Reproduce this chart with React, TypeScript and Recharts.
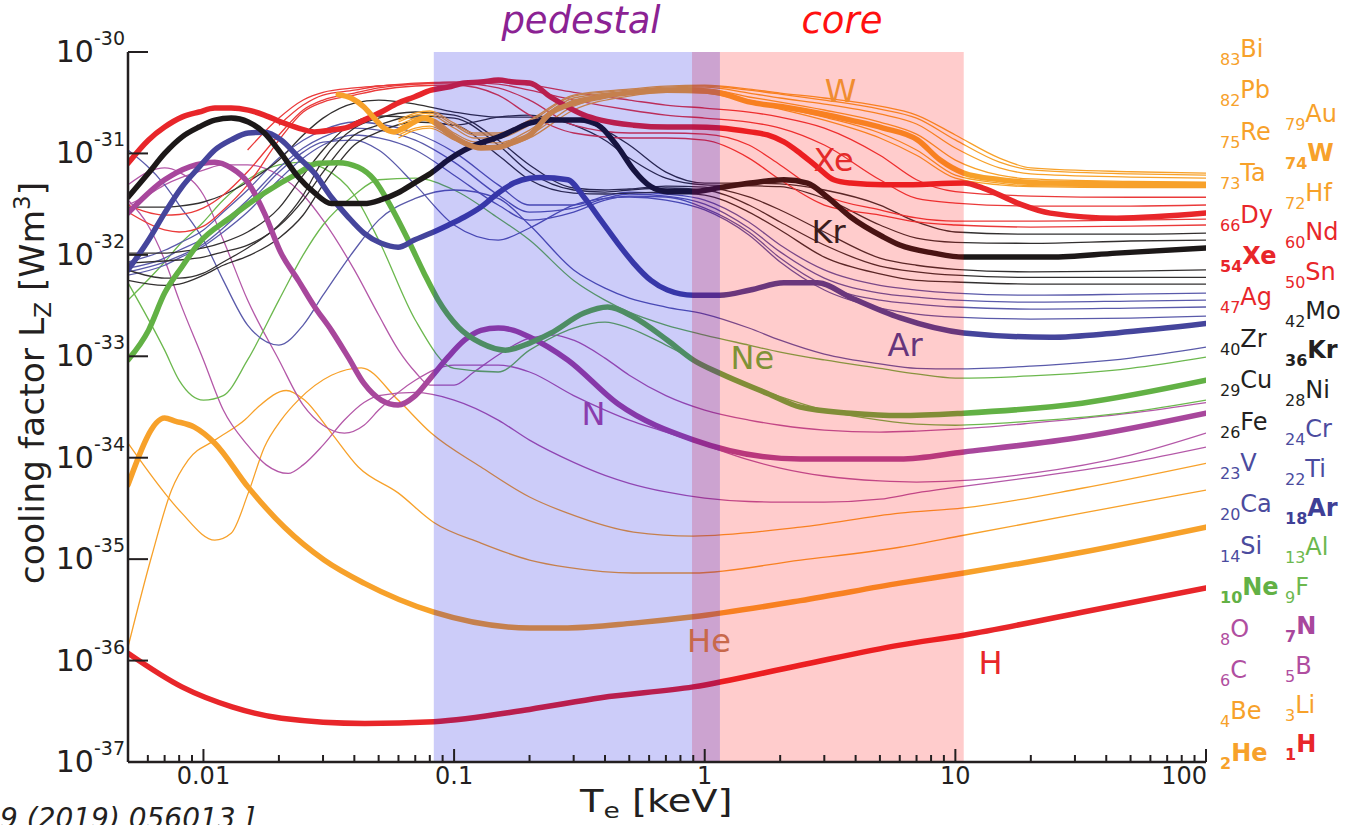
import React from 'react';
import { ComposedChart, Line, XAxis, YAxis, ReferenceArea, ReferenceDot } from 'recharts';

// ---- temperature grids [keV] ----
const tStd = [0.005, 0.007, 0.008, 0.01, 0.012, 0.015, 0.02, 0.025, 0.03, 0.04, 0.05, 0.07, 0.1, 0.15, 0.2, 0.3, 0.4, 0.5, 0.7, 1, 1.5, 2, 3, 5, 7, 10, 20, 50, 100];
const tRed = [0.005, 0.007, 0.008, 0.01, 0.012, 0.015, 0.02, 0.025, 0.03, 0.04, 0.05, 0.07, 0.1, 0.15, 0.2, 0.3, 0.5, 0.7, 1, 1.5, 2, 3, 5, 7, 10, 20, 50, 100];
const tHeavy = [0.06, 0.07, 0.08, 0.1, 0.12, 0.15, 0.2, 0.3, 0.5, 0.7, 1, 1.5, 2, 3, 5, 7, 10, 15, 20, 50, 100];
const tB = [0.005, 0.006, 0.007, 0.008, 0.01, 0.012, 0.015, 0.0178, 0.0218, 0.025, 0.03, 0.0365, 0.0437, 0.05, 0.07, 0.1, 0.15, 0.2, 0.3, 0.4, 0.5, 0.7, 1, 1.5, 2, 3, 5, 7, 10, 20, 50, 100];
const tC = [0.005, 0.006, 0.007, 0.008, 0.01, 0.012, 0.015, 0.02, 0.025, 0.03, 0.0365, 0.0437, 0.05, 0.07, 0.1, 0.15, 0.2, 0.3, 0.4, 0.5, 0.7, 1, 1.5, 2, 3, 5, 7, 10, 20, 50, 100];
const tO = [0.005, 0.006, 0.007, 0.01, 0.012, 0.015, 0.02, 0.025, 0.03, 0.04, 0.05, 0.06, 0.07, 0.08, 0.1, 0.12, 0.15, 0.2, 0.25, 0.3, 0.4, 0.5, 0.7, 1, 1.5, 2, 3, 5, 7, 10, 20, 50, 100];
const tBe = [0.005, 0.007, 0.0082, 0.0111, 0.0129, 0.0151, 0.0175, 0.0204, 0.0239, 0.0324, 0.0426, 0.0598, 0.081, 0.128, 0.2, 0.284, 0.52, 0.9, 2.41, 6, 10.8, 32, 100];
const tLi = [0.005, 0.0062, 0.00746, 0.0087, 0.0111, 0.0146, 0.0166, 0.0214, 0.0253, 0.0324, 0.0415, 0.0598, 0.083, 0.128, 0.2, 0.284, 0.52, 0.9, 2.41, 6, 10.8, 32, 100];

// ---- thick (highlighted) species ----
const tH = [0.005, 0.0082, 0.013, 0.0205, 0.044, 0.083, 0.2, 0.385, 0.9, 2.4, 6, 10.8, 32, 100];
const lzH = [1.18e-36, 5.5e-37, 3.5e-37, 2.7e-37, 2.4e-37, 2.5e-37, 3.3e-37, 4.3e-37, 5.5e-37, 9.0e-37, 1.42e-36, 1.78e-36, 3.0e-36, 5.2e-36];

const tHe = [0.005, 0.007, 0.0077, 0.0092, 0.0111, 0.0151, 0.021, 0.0303, 0.0437, 0.083, 0.2, 0.284, 0.52, 0.9, 2.41, 6, 10.8, 32, 100];
const lzHe = [5.4e-35, 2.46e-34, 2.3e-34, 2.0e-34, 1.39e-34, 5.1e-35, 2.07e-35, 9.8e-36, 5.8e-36, 3.0e-36, 2.1e-36, 2.1e-36, 2.34e-36, 2.7e-36, 3.9e-36, 5.8e-36, 7.3e-36, 1.17e-35, 2.07e-35];

const tN = [0.005, 0.007, 0.0111, 0.0129, 0.0151, 0.0175, 0.0204, 0.0239, 0.0277, 0.0324, 0.0378, 0.0437, 0.0512, 0.0598, 0.0693, 0.081, 0.0946, 0.11, 0.128, 0.15, 0.173, 0.2, 0.284, 0.45, 0.9, 2.41, 6, 10.8, 32, 100];
const lzN = [2.58e-32, 5.5e-32, 8.2e-32, 7.2e-32, 5.1e-32, 2.58e-32, 1.04e-32, 5.6e-33, 3.1e-33, 1.8e-33, 9.8e-34, 5.4e-34, 3.7e-34, 3.3e-34, 4.0e-34, 6.2e-34, 9.8e-34, 1.44e-33, 1.8e-33, 1.9e-33, 1.8e-33, 1.55e-33, 9.2e-34, 3.4e-34, 1.5e-34, 9.7e-35, 9.7e-35, 1.14e-34, 1.6e-34, 2.75e-34];

const tNe = [0.005, 0.00604, 0.007, 0.0082, 0.0096, 0.0129, 0.0175, 0.0239, 0.0287, 0.0345, 0.0415, 0.048, 0.0561, 0.0656, 0.0759, 0.0863, 0.104, 0.128, 0.16, 0.2, 0.243, 0.33, 0.41, 0.52, 0.71, 0.9, 1.15, 1.78, 2.41, 3.82, 6, 10.8, 32, 100];
const lzNe = [9.2e-34, 1.81e-33, 4.2e-33, 7.6e-33, 1.31e-32, 2.36e-32, 4.07e-32, 6.4e-32, 8.0e-32, 8.1e-32, 7.3e-32, 5.5e-32, 2.96e-32, 1.4e-32, 6.6e-33, 3.6e-33, 1.94e-33, 1.35e-33, 1.15e-33, 1.35e-33, 1.69e-33, 2.67e-33, 3.06e-33, 2.44e-33, 1.44e-33, 9.2e-34, 6.8e-34, 4.3e-34, 3.15e-34, 2.75e-34, 2.6e-34, 2.75e-34, 3.45e-34, 5.8e-34];

const tAr = [0.005, 0.00604, 0.007, 0.0082, 0.0096, 0.0111, 0.0129, 0.0151, 0.0175, 0.0204, 0.0239, 0.0277, 0.0324, 0.0378, 0.0437, 0.0512, 0.0598, 0.0693, 0.081, 0.0946, 0.11, 0.128, 0.15, 0.173, 0.2, 0.222, 0.284, 0.33, 0.385, 0.45, 0.52, 0.61, 0.71, 0.9, 1.15, 1.52, 2.07, 2.82, 3.82, 6, 10.8, 23.9, 44, 100];
const lzAr = [7.1e-33, 1.4e-32, 2.58e-32, 4.66e-32, 7.3e-32, 1.08e-31, 1.36e-31, 1.59e-31, 1.62e-31, 1.36e-31, 9.2e-32, 6.4e-32, 3.7e-32, 2.36e-32, 1.64e-32, 1.3e-32, 1.19e-32, 1.4e-32, 1.64e-32, 1.96e-32, 2.36e-32, 2.96e-32, 4.07e-32, 5.1e-32, 5.7e-32, 5.8e-32, 5.5e-32, 3.7e-32, 2.2e-32, 1.3e-32, 8.3e-33, 5.6e-33, 4.5e-33, 4.0e-33, 4.0e-33, 4.5e-33, 5.3e-33, 5.3e-33, 3.8e-33, 2.4e-33, 1.7e-33, 1.54e-33, 1.7e-33, 2.1e-33];

const tKr = [0.005, 0.00604, 0.007, 0.0082, 0.0096, 0.0111, 0.0129, 0.0151, 0.0175, 0.0204, 0.0239, 0.0277, 0.0324, 0.0378, 0.0437, 0.0512, 0.0598, 0.0693, 0.081, 0.0946, 0.11, 0.128, 0.15, 0.173, 0.2, 0.243, 0.33, 0.385, 0.45, 0.52, 0.61, 0.71, 0.9, 1.15, 1.52, 2.07, 2.57, 3.09, 3.82, 5.16, 6, 8.2, 10.8, 23.9, 44, 100];
const lzKr = [3.7e-32, 6.4e-32, 1.0e-31, 1.45e-31, 1.82e-31, 2.13e-31, 2.23e-31, 2.04e-31, 1.59e-31, 1.0e-31, 5.85e-32, 4.1e-32, 3.2e-32, 3.2e-32, 3.2e-32, 3.5e-32, 4.1e-32, 5.1e-32, 6.4e-32, 8.6e-32, 1.08e-31, 1.27e-31, 1.45e-31, 1.7e-31, 1.99e-31, 2.13e-31, 2.13e-31, 1.82e-31, 1.16e-31, 6.9e-32, 4.7e-32, 4.2e-32, 4.2e-32, 4.6e-32, 5.1e-32, 5.5e-32, 5.1e-32, 3.7e-32, 2.36e-32, 1.5e-32, 1.25e-32, 1.04e-32, 9.5e-33, 9.5e-33, 1.04e-32, 1.17e-32];

const tXe = [0.005, 0.00604, 0.007, 0.0082, 0.0096, 0.0111, 0.0129, 0.0151, 0.0175, 0.0204, 0.0239, 0.0277, 0.0324, 0.0378, 0.0437, 0.0512, 0.0598, 0.0693, 0.081, 0.0946, 0.11, 0.128, 0.15, 0.173, 0.2, 0.243, 0.284, 0.33, 0.385, 0.52, 0.71, 0.9, 1.15, 1.52, 1.78, 2.07, 2.41, 2.82, 3.27, 3.82, 5.16, 6, 10.8, 12.9, 17.7, 23.9, 44, 100];
const lzXe = [8.0e-32, 1.36e-31, 1.82e-31, 2.28e-31, 2.56e-31, 2.8e-31, 2.8e-31, 2.67e-31, 2.39e-31, 2.04e-31, 1.78e-31, 1.63e-31, 1.7e-31, 1.82e-31, 2.13e-31, 2.56e-31, 3.14e-31, 3.6e-31, 4.2e-31, 4.5e-31, 4.94e-31, 5.05e-31, 5.3e-31, 5.05e-31, 4.94e-31, 3.6e-31, 2.87e-31, 2.39e-31, 2.13e-31, 1.9e-31, 1.82e-31, 1.82e-31, 1.78e-31, 1.63e-31, 1.52e-31, 1.3e-31, 1.0e-31, 7.3e-32, 5.5e-32, 5.1e-32, 4.9e-32, 4.9e-32, 5.1e-32, 4.56e-32, 3.24e-32, 2.58e-32, 2.3e-32, 2.58e-32];

const tW = [0.0345, 0.039, 0.0437, 0.048, 0.0526, 0.0576, 0.0632, 0.0693, 0.076, 0.083, 0.0946, 0.11, 0.128, 0.15, 0.173, 0.2, 0.243, 0.284, 0.385, 0.52, 0.71, 0.9, 1.15, 1.52, 2.07, 2.82, 3.82, 5.16, 7.06, 8.7, 10.8, 15.1, 23.9, 100];
const lzW = [3.8e-31, 3.5e-31, 2.87e-31, 2.23e-31, 1.78e-31, 1.63e-31, 1.78e-31, 2.04e-31, 2.23e-31, 2.04e-31, 1.59e-31, 1.27e-31, 1.13e-31, 1.15e-31, 1.3e-31, 1.52e-31, 2.5e-31, 3.0e-31, 3.6e-31, 4.0e-31, 4.2e-31, 4.2e-31, 3.94e-31, 3.2e-31, 2.87e-31, 2.5e-31, 2.13e-31, 1.78e-31, 1.36e-31, 8.6e-32, 6.4e-32, 5.5e-32, 5.1e-32, 4.9e-32];

// ---- thin species ----
const lzLi = [1.36e-36, 1.05e-35, 4.8e-35, 9.5e-35, 1.49e-34, 2.35e-34, 3.2e-34, 4.6e-34, 3.7e-34, 1.75e-34, 8.1e-35, 4.5e-35, 2.3e-35, 1.44e-35, 9.8e-36, 8.3e-36, 7.3e-36, 7.3e-36, 9.8e-36, 1.31e-35, 1.72e-35, 2.84e-35, 4.8e-35];
const lzBe = [1.39e-34, 4.5e-35, 2.84e-35, 1.54e-35, 1.8e-35, 4.5e-35, 1.27e-34, 2.35e-34, 3.7e-34, 6.5e-34, 7.7e-34, 3.7e-34, 1.75e-34, 8.1e-35, 4.1e-35, 2.84e-35, 1.85e-35, 1.69e-35, 2.07e-35, 2.84e-35, 3.2e-35, 5.0e-35, 8.8e-35];
const lzB = [3.47e-32, 1.97e-32, 8.9e-33, 3.58e-33, 9.2e-34, 2.95e-34, 1.33e-34, 8.5e-35, 7.0e-35, 8.5e-35, 1.33e-34, 2.35e-34, 3.5e-34, 4.1e-34, 4.4e-34, 3.7e-34, 2.35e-34, 1.49e-34, 9.0e-35, 6.7e-35, 5.6e-35, 4.6e-35, 4.0e-35, 3.7e-35, 3.65e-35, 3.65e-35, 3.9e-35, 4.5e-35, 5.1e-35, 6.4e-35, 9.0e-35, 1.27e-34];
const lzC = [4.9e-32, 6.55e-32, 7.2e-32, 6.55e-32, 3.89e-32, 1.4e-32, 3.58e-33, 9.2e-34, 3.3e-34, 2.09e-34, 1.75e-34, 2.09e-34, 2.95e-34, 5.8e-34, 8.2e-34, 8.2e-34, 7.0e-34, 4.1e-34, 2.95e-34, 2.35e-34, 1.79e-34, 1.33e-34, 9.5e-35, 7.9e-35, 6.6e-35, 5.9e-35, 5.75e-35, 5.9e-35, 7.0e-35, 1.06e-34, 1.75e-34];
const lzO = [3.1e-32, 3.89e-32, 4.9e-32, 6.86e-32, 7.7e-32, 7.7e-32, 6.1e-32, 3.89e-32, 2.2e-32, 7.1e-33, 2.55e-33, 1.15e-33, 7.0e-34, 5.2e-34, 5.2e-34, 7.0e-34, 1.03e-33, 1.51e-33, 1.62e-33, 1.44e-33, 9.6e-34, 6.5e-34, 4.1e-34, 2.95e-34, 2.35e-34, 2.09e-34, 1.87e-34, 1.79e-34, 1.83e-34, 1.91e-34, 2.19e-34, 2.75e-34, 3.5e-34];
const lzF = [3.58e-33, 8.5e-33, 1.25e-32, 2.11e-32, 3.47e-32, 5.5e-32, 7.7e-32, 8.2e-32, 7.2e-32, 3.89e-32, 1.4e-32, 2.28e-33, 7.6e-34, 7.0e-34, 1.15e-33, 1.9e-33, 2.17e-33, 1.9e-33, 1.29e-33, 8.2e-34, 5.2e-34, 4.0e-34, 2.95e-34, 2.35e-34, 2.14e-34, 2.09e-34, 2.29e-34, 2.82e-34, 3.7e-34];
const lzAl = [5.3e-33, 1.15e-33, 5.8e-34, 3.7e-34, 4.1e-34, 9.2e-34, 3.58e-33, 1.0e-32, 1.97e-32, 3.89e-32, 5.5e-32, 5.7e-32, 4.36e-32, 2.31e-32, 1.4e-32, 5.6e-33, 3.58e-33, 2.72e-33, 2.03e-33, 1.62e-33, 1.29e-33, 1.1e-33, 9.2e-34, 7.6e-34, 6.7e-34, 6.1e-34, 6.4e-34, 7.6e-34, 9.8e-34];
const lzSi = [1.08e-31, 4.9e-32, 3.1e-32, 1.4e-32, 5.6e-33, 2.03e-33, 1.29e-33, 2.03e-33, 4.0e-33, 1.11e-32, 2.2e-32, 3.6e-32, 4.36e-32, 3.6e-32, 1.97e-32, 7.1e-33, 4.7e-33, 3.75e-33, 3.06e-33, 2.61e-33, 1.9e-33, 1.44e-33, 1.05e-33, 8.4e-34, 7.6e-34, 7.5e-34, 8.0e-34, 9.6e-34, 1.23e-33];
const lzCa = [6.8e-33, 8.5e-33, 9.7e-33, 1.28e-32, 1.84e-32, 3.1e-32, 6.55e-32, 1.03e-31, 1.29e-31, 1.35e-31, 1.08e-31, 4.9e-32, 1.97e-32, 1.4e-32, 1.84e-32, 3.1e-32, 3.6e-32, 3.72e-32, 3.47e-32, 2.77e-32, 1.57e-32, 8.5e-33, 4.5e-33, 2.99e-33, 2.61e-33, 2.43e-33, 2.33e-33, 2.38e-33, 2.49e-33];
const lzTi = [6.3e-33, 7.9e-33, 9.3e-33, 1.22e-32, 1.68e-32, 2.64e-32, 5.5e-32, 9.0e-32, 1.21e-31, 1.52e-31, 1.42e-31, 1.08e-31, 6.1e-32, 3.1e-32, 2.2e-32, 2.64e-32, 3.47e-32, 3.8e-32, 3.72e-32, 2.89e-32, 1.68e-32, 9.3e-33, 5.0e-33, 3.58e-33, 3.27e-33, 3.06e-33, 2.92e-33, 2.99e-33, 3.06e-33];
const lzV = [7.4e-33, 9.3e-33, 1.11e-32, 1.46e-32, 2.11e-32, 3.47e-32, 7.2e-32, 1.13e-31, 1.45e-31, 1.78e-31, 1.7e-31, 1.35e-31, 8.2e-32, 3.89e-32, 2.64e-32, 2.89e-32, 3.6e-32, 3.98e-32, 3.8e-32, 3.17e-32, 1.84e-32, 1.07e-32, 5.9e-33, 4.2e-33, 3.83e-33, 3.58e-33, 3.42e-33, 3.5e-33, 3.58e-33];
const lzCr = [8.5e-33, 1.11e-32, 1.3e-32, 1.76e-32, 2.64e-32, 4.36e-32, 9.0e-32, 1.35e-31, 1.7e-31, 2.04e-31, 1.95e-31, 1.59e-31, 1.03e-31, 4.9e-32, 3.1e-32, 3.1e-32, 3.8e-32, 4.16e-32, 3.98e-32, 3.47e-32, 2.11e-32, 1.25e-32, 7.1e-33, 5.0e-33, 4.5e-33, 4.2e-33, 4.0e-33, 4.1e-33, 4.2e-33];
const lzFe = [5.6e-33, 5.0e-33, 5.15e-33, 6.3e-33, 7.9e-33, 9.7e-33, 1.46e-32, 2.47e-32, 4.9e-32, 1.21e-31, 1.63e-31, 2.04e-31, 1.9e-31, 9.6e-32, 5.5e-32, 4.07e-32, 3.98e-32, 4.07e-32, 4.16e-32, 3.89e-32, 2.64e-32, 1.76e-32, 9.5e-33, 6.5e-33, 5.6e-33, 5.4e-33, 5.15e-33, 5.15e-33, 5.15e-33];
const lzNi = [8.3e-33, 8.7e-33, 8.9e-33, 9.5e-33, 1.07e-32, 1.25e-32, 1.92e-32, 3.47e-32, 6.55e-32, 1.52e-31, 1.9e-31, 2.34e-31, 2.23e-31, 1.21e-31, 6.55e-32, 4.36e-32, 4.16e-32, 4.36e-32, 4.56e-32, 4.36e-32, 3.1e-32, 2.11e-32, 1.25e-32, 7.75e-33, 6.8e-33, 6.3e-33, 6.0e-33, 6.0e-33, 6.0e-33];
const lzCu = [7.1e-33, 5.9e-33, 5.9e-33, 6.6e-33, 8.5e-33, 1.17e-32, 1.97e-32, 3.89e-32, 8.6e-32, 1.78e-31, 2.23e-31, 2.56e-31, 2.39e-31, 1.35e-31, 7.7e-32, 4.56e-32, 4.36e-32, 4.46e-32, 4.77e-32, 4.66e-32, 3.72e-32, 2.77e-32, 1.68e-32, 9.3e-33, 7.9e-33, 7.2e-33, 6.8e-33, 6.9e-33, 7.1e-33];
const lzZr = [1.04e-32, 1.04e-32, 1.07e-32, 1.17e-32, 1.33e-32, 1.68e-32, 2.89e-32, 6.1e-32, 1.08e-31, 2.04e-31, 2.34e-31, 2.23e-31, 1.9e-31, 2.28e-31, 2.39e-31, 1.9e-31, 1.35e-31, 9.0e-32, 5.7e-32, 4.9e-32, 4.8e-32, 4.7e-32, 3.6e-32, 1.97e-32, 1.46e-32, 1.33e-32, 1.3e-32, 1.37e-32, 1.4e-32];
const lzMo = [2.96e-32, 2.96e-32, 3.03e-32, 3.32e-32, 3.89e-32, 5.22e-32, 8.6e-32, 1.52e-31, 2.23e-31, 3.14e-31, 3.36e-31, 3.07e-31, 2.56e-31, 2.28e-31, 2.28e-31, 2.13e-31, 1.7e-31, 1.21e-31, 6.55e-32, 5.1e-32, 5.1e-32, 5.0e-32, 4.36e-32, 3.1e-32, 2.11e-32, 1.68e-32, 1.6e-32, 1.6e-32, 1.64e-32];
const lzAg = [2.64e-32, 1.76e-32, 1.68e-32, 1.92e-32, 2.77e-32, 4.9e-32, 1.35e-31, 2.56e-31, 3.21e-31, 3.76e-31, 4.22e-31, 4.62e-31, 4.73e-31, 3.76e-31, 2.39e-31, 1.59e-31, 1.42e-31, 1.42e-31, 1.35e-31, 9.0e-32, 5.5e-32, 3.1e-32, 2.47e-32, 2.11e-32, 1.97e-32, 1.88e-32, 1.92e-32, 1.97e-32];
const lzSn = [3.1e-32, 2.47e-32, 2.5e-32, 2.9e-32, 3.89e-32, 6.6e-32, 1.52e-31, 2.68e-31, 3.36e-31, 3.94e-31, 4.42e-31, 4.83e-31, 4.94e-31, 4.42e-31, 3.36e-31, 1.9e-31, 1.59e-31, 1.59e-31, 1.55e-31, 1.21e-31, 7.7e-32, 3.89e-32, 2.77e-32, 2.31e-32, 2.15e-32, 2.15e-32, 2.2e-32, 2.25e-32];
const lzNd = [1.08e-31, 2.23e-31, 3.36e-31, 4.0e-31, 4.42e-31, 4.62e-31, 4.94e-31, 5.05e-31, 4.83e-31, 4.2e-31, 3.36e-31, 2.68e-31, 2.39e-31, 2.23e-31, 2.04e-31, 1.78e-31, 1.21e-31, 5.5e-32, 3.6e-32, 3.24e-32, 3.03e-32, 3.03e-32, 3.1e-32];
const lzDy = [1.9e-31, 3.0e-31, 3.76e-31, 4.2e-31, 4.62e-31, 4.83e-31, 5.05e-31, 5.05e-31, 4.73e-31, 4.0e-31, 3.36e-31, 3.0e-31, 2.8e-31, 2.56e-31, 2.28e-31, 1.78e-31, 9.6e-32, 5.5e-32, 4.2e-32, 3.8e-32, 3.7e-32, 3.7e-32];
const lzHf = [1.42e-31, 1.7e-31, 1.78e-31, 1.36e-31, 1.16e-31, 1.13e-31, 1.42e-31, 2.68e-31, 3.68e-31, 4.0e-31, 3.94e-31, 3.21e-31, 2.74e-31, 2.13e-31, 1.42e-31, 9.6e-32, 5.7e-32, 4.9e-32, 4.7e-32, 4.6e-32, 4.6e-32];
const lzTa = [1.52e-31, 1.78e-31, 1.86e-31, 1.42e-31, 1.18e-31, 1.18e-31, 1.52e-31, 2.93e-31, 3.85e-31, 4.1e-31, 4.0e-31, 3.36e-31, 2.87e-31, 2.28e-31, 1.59e-31, 1.08e-31, 6.1e-32, 5.1e-32, 4.8e-32, 4.7e-32, 4.7e-32];
const lzRe = [1.78e-31, 2.13e-31, 2.23e-31, 1.59e-31, 1.3e-31, 1.27e-31, 1.7e-31, 3.36e-31, 4.0e-31, 4.3e-31, 4.3e-31, 3.6e-31, 3.21e-31, 2.68e-31, 2.04e-31, 1.55e-31, 8.6e-32, 6.1e-32, 5.6e-32, 5.3e-32, 5.2e-32];
const lzAu = [1.9e-31, 2.23e-31, 2.39e-31, 1.78e-31, 1.42e-31, 1.42e-31, 1.9e-31, 3.52e-31, 4.1e-31, 4.4e-31, 4.5e-31, 3.94e-31, 3.52e-31, 3.07e-31, 2.45e-31, 1.95e-31, 1.13e-31, 7.2e-32, 6.3e-32, 5.85e-32, 5.7e-32];
const lzPb = [2.04e-31, 2.39e-31, 2.5e-31, 1.9e-31, 1.52e-31, 1.52e-31, 2.04e-31, 3.68e-31, 4.2e-31, 4.5e-31, 4.6e-31, 4.2e-31, 3.85e-31, 3.36e-31, 2.74e-31, 2.23e-31, 1.36e-31, 8.2e-32, 6.9e-32, 6.3e-32, 6.1e-32];
const lzBi = [2.13e-31, 2.5e-31, 2.62e-31, 1.99e-31, 1.59e-31, 1.59e-31, 2.13e-31, 3.76e-31, 4.3e-31, 4.6e-31, 4.7e-31, 4.3e-31, 3.94e-31, 3.52e-31, 2.93e-31, 2.39e-31, 1.52e-31, 9.0e-32, 7.2e-32, 6.6e-32, 6.4e-32];

// ---- axis ticks ----
const xTicks = [0.006, 0.007, 0.008, 0.009, 0.01, 0.02, 0.03, 0.04, 0.05, 0.06, 0.07, 0.08, 0.09, 0.1, 0.2, 0.3, 0.4, 0.5, 0.6, 0.7, 0.8, 0.9, 1, 2, 3, 4, 5, 6, 7, 8, 9, 10, 20, 30, 40, 50, 60, 70, 80, 90, 100];
const yTicks = [1e-37, 1e-36, 1e-35, 1e-34, 1e-33, 1e-32, 1e-31, 1e-30];

// ---- shaded regions [keV] ----
const pedestalRange = [0.083, 1.15];
const coreRange = [0.89, 10.8];

const INK = '#231f20';
const ORANGE = '#f7a12a';
const RED = '#e8262a';
const BLACK = '#1c1818';
const BLUE = '#45459c';
const GREEN = '#62b145';
const MAGENTA = '#a8479c';
const FONT = '"DejaVu Sans", sans-serif';

const thinSeries = [
  { id: 'Li', t: tLi, lz: lzLi, color: ORANGE },
  { id: 'Be', t: tBe, lz: lzBe, color: ORANGE },
  { id: 'B', t: tB, lz: lzB, color: '#b458a8' },
  { id: 'C', t: tC, lz: lzC, color: '#b458a8' },
  { id: 'O', t: tO, lz: lzO, color: '#b458a8' },
  { id: 'F', t: tStd, lz: lzF, color: '#6cb84e' },
  { id: 'Al', t: tStd, lz: lzAl, color: '#6cb84e' },
  { id: 'Si', t: tStd, lz: lzSi, color: '#5a5aaa' },
  { id: 'Ca', t: tStd, lz: lzCa, color: '#5a5aaa' },
  { id: 'Ti', t: tStd, lz: lzTi, color: '#5a5aaa' },
  { id: 'V', t: tStd, lz: lzV, color: '#5a5aaa' },
  { id: 'Cr', t: tStd, lz: lzCr, color: '#5a5aaa' },
  { id: 'Fe', t: tStd, lz: lzFe, color: '#333030' },
  { id: 'Ni', t: tStd, lz: lzNi, color: '#333030' },
  { id: 'Cu', t: tStd, lz: lzCu, color: '#333030' },
  { id: 'Zr', t: tStd, lz: lzZr, color: '#333030' },
  { id: 'Mo', t: tStd, lz: lzMo, color: '#333030' },
  { id: 'Ag', t: tRed, lz: lzAg, color: '#ea3a3a' },
  { id: 'Sn', t: tRed, lz: lzSn, color: '#ea3a3a' },
  { id: 'Nd', t: tRed.slice(5), lz: lzNd, color: '#ea3a3a' },
  { id: 'Dy', t: tRed.slice(6), lz: lzDy, color: '#ea3a3a' },
  { id: 'Hf', t: tHeavy, lz: lzHf, color: ORANGE },
  { id: 'Ta', t: tHeavy, lz: lzTa, color: ORANGE },
  { id: 'Re', t: tHeavy, lz: lzRe, color: ORANGE },
  { id: 'Au', t: tHeavy, lz: lzAu, color: ORANGE },
  { id: 'Pb', t: tHeavy, lz: lzPb, color: ORANGE },
  { id: 'Bi', t: tHeavy, lz: lzBi, color: ORANGE },
];

const thickSeries = [
  { id: 'H', t: tH, lz: lzH, color: RED },
  { id: 'He', t: tHe, lz: lzHe, color: ORANGE },
  { id: 'N', t: tN, lz: lzN, color: MAGENTA },
  { id: 'Ne', t: tNe, lz: lzNe, color: GREEN },
  { id: 'Ar', t: tAr, lz: lzAr, color: BLUE },
  { id: 'Kr', t: tKr, lz: lzKr, color: BLACK },
  { id: 'Xe', t: tXe, lz: lzXe, color: RED },
  { id: 'W', t: tW, lz: lzW, color: ORANGE },
];

// in-plot species labels
const curveLabels = [
  { text: 'W', t: 3.48, lz: 4.2e-31, color: '#f08c30' },
  { text: 'Xe', t: 3.27, lz: 8.6e-32, color: '#e42a2a' },
  { text: 'Kr', t: 3.12, lz: 1.68e-32, color: '#3a1c1c' },
  { text: 'Ar', t: 6.3, lz: 1.29e-33, color: '#66357c' },
  { text: 'Ne', t: 1.55, lz: 9.6e-34, color: '#7f9236' },
  { text: 'N', t: 0.36, lz: 2.75e-34, color: '#8a3cae' },
  { text: 'He', t: 1.04, lz: 1.59e-36, color: '#c8684a' },
  { text: 'H', t: 13.8, lz: 9.6e-37, color: RED },
];

// element key, two columns: [Z, symbol, color, bold]
const keyLeft: [string, string, string, boolean][] = [
  ['83', 'Bi', ORANGE, false], ['82', 'Pb', ORANGE, false], ['75', 'Re', ORANGE, false], ['73', 'Ta', ORANGE, false],
  ['66', 'Dy', RED, false], ['54', 'Xe', RED, true], ['47', 'Ag', RED, false], ['40', 'Zr', INK, false],
  ['29', 'Cu', INK, false], ['26', 'Fe', INK, false], ['23', 'V', '#4b4b9e', false], ['20', 'Ca', '#4b4b9e', false],
  ['14', 'Si', '#4b4b9e', false], ['10', 'Ne', GREEN, true], ['8', 'O', '#b04ea0', false], ['6', 'C', '#b04ea0', false],
  ['4', 'Be', ORANGE, false], ['2', 'He', ORANGE, true],
];
const keyRight: [string, string, string, boolean][] = [
  ['79', 'Au', ORANGE, false], ['74', 'W', ORANGE, true], ['72', 'Hf', ORANGE, false], ['60', 'Nd', RED, false],
  ['50', 'Sn', RED, false], ['42', 'Mo', INK, false], ['36', 'Kr', INK, true], ['28', 'Ni', INK, false],
  ['24', 'Cr', '#4b4b9e', false], ['22', 'Ti', '#4b4b9e', false], ['18', 'Ar', '#3f3f96', true], ['13', 'Al', '#6cb84e', false],
  ['9', 'F', '#6cb84e', false], ['7', 'N', '#a8479c', true], ['5', 'B', '#b04ea0', false], ['3', 'Li', ORANGE, false],
  ['1', 'H', RED, true],
];

const isDecade = (v: number) => Math.abs(Math.log10(v) - Math.round(Math.log10(v))) < 1e-6;

const BottomTick = (props: any) => {
  const { x, y, payload } = props;
  const major = isDecade(payload.value);
  const last = payload.value >= 100;
  return (
    <g>
      <line x1={x} x2={x} y1={y} y2={y - (major ? 13 : 7)} stroke={INK} strokeWidth={2} />
      {major && (
        <text x={last ? x + 1 : x} y={y + 22} textAnchor={last ? 'end' : 'middle'} fontSize={24} fill={INK}>
          {String(payload.value)}
        </text>
      )}
    </g>
  );
};

const TopTick = (props: any) => {
  const { x, y, payload } = props;
  const major = isDecade(payload.value);
  return <line x1={x} x2={x} y1={y} y2={y + (major ? 12 : 6)} stroke={INK} strokeWidth={2} />;
};

const LeftTick = (props: any) => {
  const { x, y, payload } = props;
  return (
    <g>
      <line x1={x} x2={x + 20} y1={y} y2={y} stroke={INK} strokeWidth={2} />
      <text x={x - 3} y={y + 10} textAnchor="end" fontSize={30} fill={INK}>
        10
        <tspan fontSize={19} dy={-17}>
          {Math.round(Math.log10(payload.value))}
        </tspan>
      </text>
    </g>
  );
};

const RightTick = (props: any) => {
  const { x, y } = props;
  return <line x1={x - 20} x2={x} y1={y} y2={y} stroke={INK} strokeWidth={2} />;
};

const toPoints = (t: number[], lz: number[]) => t.map((v, i) => ({ t: v, lz: lz[i] }));

export default function App() {
  return (
    <div style={{ position: 'relative', width: 1345, height: 825, overflow: 'hidden', fontFamily: FONT, background: '#fff' }}>
      <style>{'body{margin:0;overflow:hidden}'}</style>
      <ComposedChart width={1345} height={825} margin={{ top: 52, right: 139, bottom: 23, left: 0 }}>
        {thinSeries.map((s) => (
          <Line
            key={s.id}
            data={toPoints(s.t, s.lz)}
            dataKey="lz"
            type="monotone"
            stroke={s.color}
            strokeWidth={1.3}
            dot={false}
            activeDot={false}
            isAnimationActive={false}
          />
        ))}
        {thickSeries.map((s) => (
          <Line
            key={s.id}
            data={toPoints(s.t, s.lz)}
            dataKey="lz"
            type="monotone"
            stroke={s.color}
            strokeWidth={5.5}
            strokeLinecap="round"
            dot={false}
            activeDot={false}
            isAnimationActive={false}
          />
        ))}
        <ReferenceArea x1={coreRange[0]} x2={coreRange[1]} fill="#ff0000" fillOpacity={0.2} stroke="none" zIndex={450} />
        <ReferenceArea x1={pedestalRange[0]} x2={pedestalRange[1]} fill="#0000e1" fillOpacity={0.2} stroke="none" zIndex={451} />
        <XAxis
          dataKey="t"
          type="number"
          scale="log"
          domain={[0.005, 100]}
          allowDataOverflow
          ticks={xTicks}
          interval={0}
          tickSize={0}
          tickMargin={0}
          tickLine={false}
          tick={<BottomTick />}
          height={40}
          axisLine={{ stroke: INK, strokeWidth: 2.5 }}
        />
        <XAxis
          xAxisId="top"
          orientation="top"
          dataKey="t"
          type="number"
          scale="log"
          domain={[0.005, 100]}
          allowDataOverflow
          ticks={xTicks}
          interval={0}
          tickSize={0}
          tickMargin={0}
          tickLine={false}
          tick={<TopTick />}
          height={0}
          axisLine={{ stroke: INK, strokeWidth: 2.5 }}
        />
        <YAxis
          type="number"
          scale="log"
          domain={[1e-37, 1e-30]}
          allowDataOverflow
          ticks={yTicks}
          interval={0}
          tickSize={0}
          tickMargin={0}
          tickLine={false}
          tick={<LeftTick />}
          width={128}
          axisLine={{ stroke: INK, strokeWidth: 2.5 }}
        />
        <YAxis
          yAxisId="right"
          orientation="right"
          type="number"
          scale="log"
          domain={[1e-37, 1e-30]}
          allowDataOverflow
          ticks={yTicks}
          interval={0}
          tickSize={0}
          tickMargin={0}
          tickLine={false}
          tick={<RightTick />}
          width={0}
          axisLine={{ stroke: INK, strokeWidth: 2.5 }}
        />
        {curveLabels.map((l) => (
          <ReferenceDot
            key={l.text}
            x={l.t}
            y={l.lz}
            r={0}
            fill="none"
            stroke="none"
            label={{ value: l.text, position: 'center', fill: l.color, fontSize: 32 }}
          />
        ))}
      </ComposedChart>

      <svg width={1345} height={825} style={{ position: 'absolute', left: 0, top: 0, pointerEvents: 'none' }}>
        <text x={581} y={33} textAnchor="middle" fontSize={37} fontStyle="italic" fill="#8b2293">pedestal</text>
        <text x={842} y={33} textAnchor="middle" fontSize={37} fontStyle="italic" fill="#ff1010">core</text>

        <text transform="translate(44,383) rotate(-90)" textAnchor="middle" fontSize={34.5} fill={INK}>
          cooling factor L<tspan fontSize={23} dy={7}>Z</tspan>
          <tspan dy={-7}> [Wm</tspan>
          <tspan fontSize={23} dy={-14}>3</tspan>
          <tspan dy={14}>]</tspan>
        </text>

        <text transform="translate(580,812) scale(1.2,1)" x={0} y={0} fontSize={32} fill={INK}>
          T<tspan fontSize={22} dy={6}>e</tspan>
          <tspan dy={-6}> [keV]</tspan>
        </text>

        <text x={0} y={828} fontSize={28} fontStyle="italic" fill={INK}>9 (2019) 056013 ]</text>

        {keyLeft.map(([z, sym, color, bold], i) => (
          <text key={sym} x={1220} y={57 + 41.4 * i} fill={color} fontWeight={bold ? 'bold' : 'normal'}>
            <tspan fontSize={16} dy={8}>{z}</tspan>
            <tspan fontSize={24} dy={-8}>{sym}</tspan>
          </text>
        ))}
        {keyRight.map(([z, sym, color, bold], i) => (
          <text key={sym} x={1285} y={122 + 39.4 * i} fill={color} fontWeight={bold ? 'bold' : 'normal'}>
            <tspan fontSize={16} dy={8}>{z}</tspan>
            <tspan fontSize={24} dy={-8}>{sym}</tspan>
          </text>
        ))}
      </svg>
    </div>
  );
}
